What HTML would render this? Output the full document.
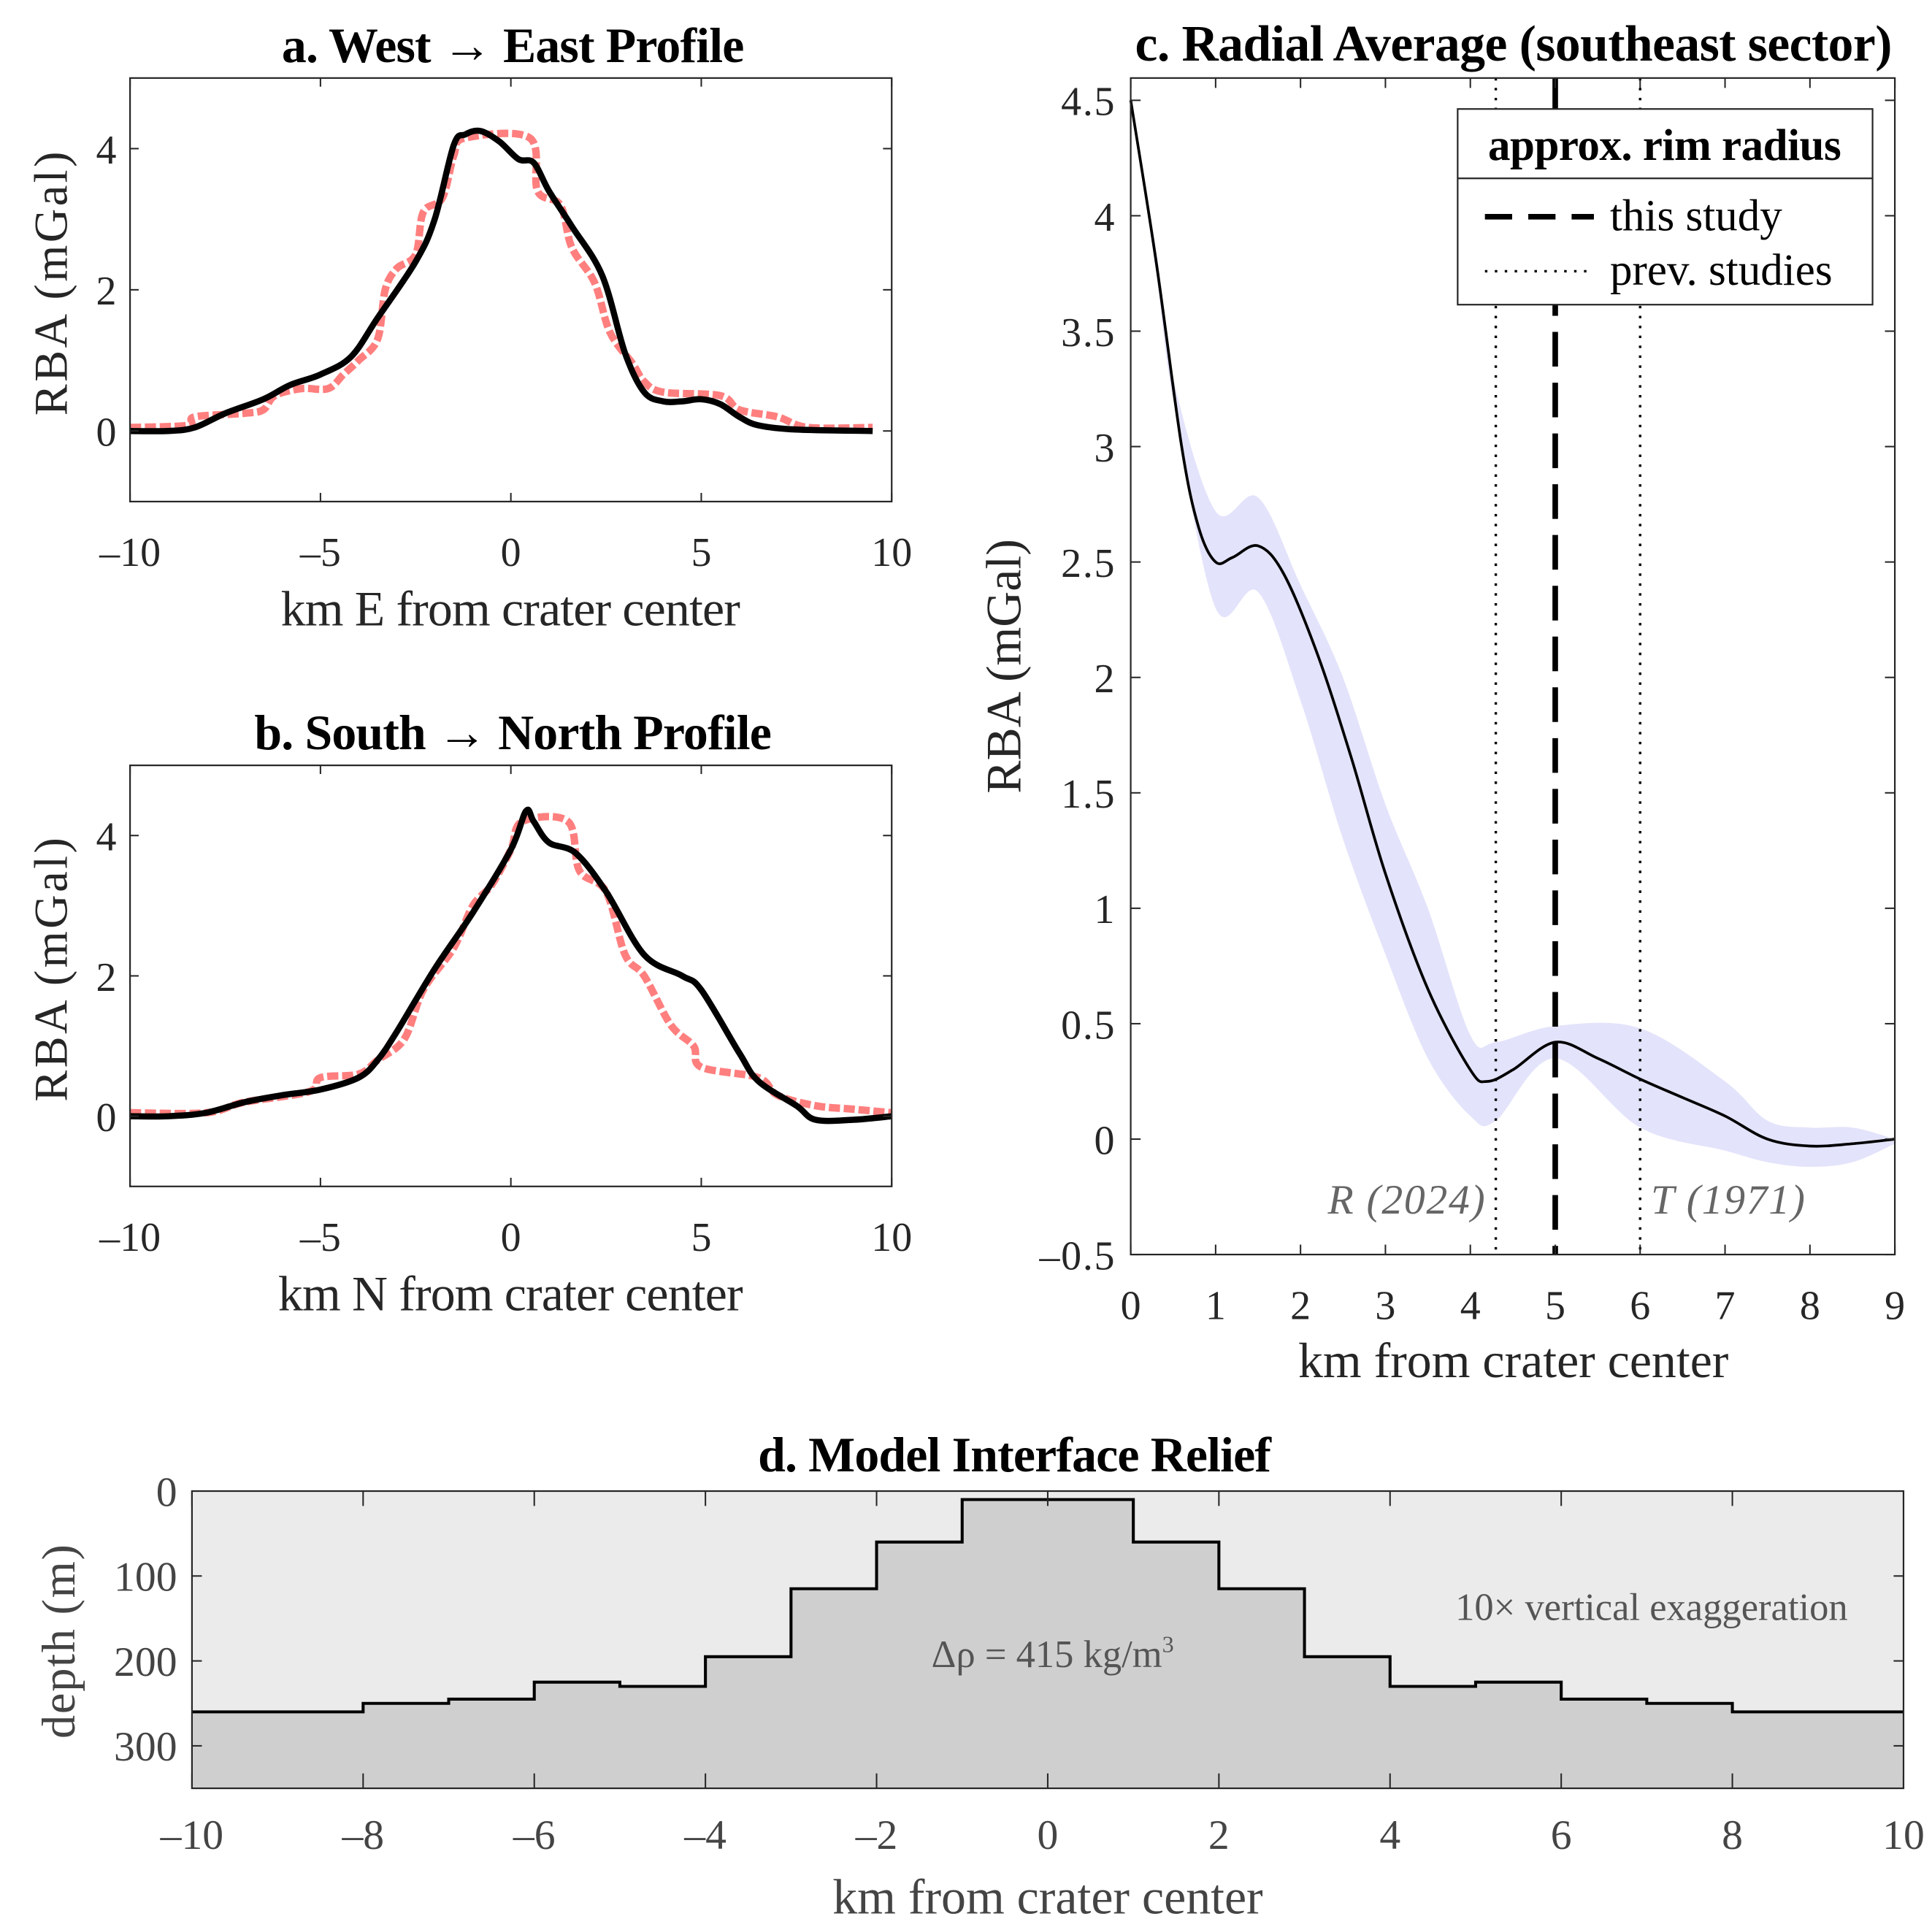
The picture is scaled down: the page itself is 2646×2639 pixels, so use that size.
<!DOCTYPE html>
<html><head><meta charset="utf-8"><style>
html,body{margin:0;padding:0;background:#fff;}
svg{display:block;font-family:"Liberation Serif",serif;}
</style></head><body>
<svg id="fig" width="2646" height="2639" viewBox="0 0 1560 1556" preserveAspectRatio="none" xmlns="http://www.w3.org/2000/svg"></svg>
<script>
// ---- Panel a data ----
const aBlackX=[-10,-9,-8.3,-7.5,-6.5,-5.8,-5,-4.2,-3.5,-2.5,-2,-1.5,-1.2,-0.8,-0.3,0.2,0.6,1,1.6,2.4,3,3.5,4,4.5,5,5.5,6,6.5,7.5,9.5];
const aBlackY=[0,0,0.05,0.25,0.45,0.65,0.8,1.05,1.6,2.4,3.0,4.05,4.2,4.25,4.1,3.85,3.8,3.4,2.9,2.2,1.1,0.55,0.42,0.42,0.45,0.38,0.2,0.08,0.02,0];
const aRedX=[-10,-8.5,-8.3,-7,-6.5,-6.2,-5.5,-4.8,-4.4,-4,-3.5,-3.3,-3,-2.5,-2.3,-1.8,-1.5,-1.2,0.5,0.7,1.3,1.6,2.2,2.6,3.2,3.5,4,5.5,6,7,7.8,9.5];
const aRedY=[0.05,0.08,0.2,0.25,0.3,0.5,0.6,0.6,0.8,1.0,1.3,2.0,2.3,2.5,3.1,3.3,3.9,4.15,4.15,3.4,3.2,2.6,2.1,1.4,0.95,0.7,0.55,0.5,0.3,0.2,0.05,0.05];
// ---- Panel b data ----
const bBlackX=[-10,-9,-8,-7,-6,-5,-4,-3.5,-3,-2,-1,0,0.4,0.6,1,1.7,2.5,3.5,4.5,5,6,6.5,7.5,8,9,10];
const bBlackY=[0,0,0.05,0.2,0.3,0.38,0.55,0.8,1.2,2.1,2.9,3.8,4.35,4.2,3.9,3.75,3.2,2.3,2.0,1.8,0.9,0.5,0.15,-0.05,-0.05,0];
const bRedX=[-10,-8,-7,-5.3,-5,-4,-3.5,-2.8,-2.3,-1.5,-1,-0.5,0,0.3,1.5,1.8,2.5,3,3.5,4.2,4.8,5,6.5,7,8,9,10];
const bRedY=[0.05,0.05,0.2,0.35,0.55,0.6,0.8,1.1,1.8,2.4,3.0,3.3,3.8,4.2,4.2,3.5,3.2,2.3,2.0,1.3,1.0,0.7,0.55,0.3,0.15,0.1,0.05];
// ---- Panel c data ----
const cX=[0,0.3,0.6,0.8,1,1.2,1.5,1.8,2.2,2.6,3,3.5,4,4.2,4.5,5,5.5,6,6.5,7,7.5,8,8.5,9];
const cMean=[4.5,3.8,3.0,2.65,2.5,2.52,2.57,2.45,2.1,1.65,1.15,0.65,0.3,0.25,0.3,0.42,0.35,0.26,0.18,0.1,0.0,-0.03,-0.02,0];
const cBandX=[0,0.3,0.5,1,1.5,2,2.5,3,3.5,4,4.3,5,6,7,7.5,8,8.5,9];
const cUpper=[4.5,3.85,3.3,2.72,2.78,2.4,2.0,1.45,1.0,0.45,0.42,0.49,0.48,0.25,0.08,0.05,0.05,0];
const cLower=[4.5,3.75,3.2,2.3,2.37,1.9,1.3,0.8,0.35,0.1,0.08,0.35,0.05,-0.05,-0.1,-0.12,-0.1,-0.02];
const rimThis=[5];
const rimPrev=[4.3,6];
// ---- Panel d data ----
const dEdges=[-10,-8,-7,-6,-5,-4,-3,-2,-1,1,2,3,4,5,6,7,8,10];
const dDepth=[260,250,245,225,230,195,115,60,10,60,115,195,230,225,245,250,260];

const svg=document.getElementById('fig');
const NS='http://www.w3.org/2000/svg';
function el(tag,attrs,parent){const e=document.createElementNS(NS,tag);for(const k in attrs)e.setAttribute(k,attrs[k]);(parent||svg).appendChild(e);return e;}
function txt(s,attrs,parent){const e=el('text',attrs,parent);e.textContent=s;return e;}
function lin(d0,d1,r0,r1){return v=>r0+(v-d0)*(r1-r0)/(d1-d0);}
function smooth(pts){let d='M'+pts[0][0]+','+pts[0][1];for(let i=0;i<pts.length-1;i++){const p0=pts[i-1]||pts[i],p1=pts[i],p2=pts[i+1],p3=pts[i+2]||p2;const c1x=p1[0]+(p2[0]-p0[0])/6,c1y=p1[1]+(p2[1]-p0[1])/6,c2x=p2[0]-(p3[0]-p1[0])/6,c2y=p2[1]-(p3[1]-p1[1])/6;d+=' C'+c1x+','+c1y+' '+c2x+','+c2y+' '+p2[0]+','+p2[1];}return d;}

function axesBox(x0,x1,y0,y1,name){
  const r=el('rect',{x:x0,y:y0,width:x1-x0,height:y1-y0,fill:'none',stroke:'#262626','stroke-width':1.3});
  
  
}

function profile(tag,top,bottom,title,xlabel,bx,by,rx,ry){
  const L=105,R=720;
  const sx=lin(-10,10,L,R), sy=lin(-1,5,bottom,top);
  const g=el('g',{});
  
  
  const t=txt(title,{x:414,y:top-13,'text-anchor':'middle','font-size':40,'font-weight':'bold','letter-spacing':-0.5},g);
  
  
  const rp=rx.map((v,i)=>[sx(v),sy(ry[i])]);
  const red=el('path',{d:smooth(rp),fill:'none',stroke:'#ff7f7f','stroke-width':6,'stroke-dasharray':'9,3'},g);
  
  
  const bp=bx.map((v,i)=>[sx(v),sy(by[i])]);
  const blk=el('path',{d:smooth(bp),fill:'none',stroke:'#000','stroke-width':5,'stroke-linejoin':'round'},g);
  
  
  axesBox(L,R,top,bottom,'axes-box-'+tag);
  [-10,-5,0,5,10].forEach(v=>{
    el('line',{x1:sx(v),x2:sx(v),y1:bottom,y2:bottom-7,stroke:'#262626','stroke-width':1.2},g);
    el('line',{x1:sx(v),x2:sx(v),y1:top,y2:top+7,stroke:'#262626','stroke-width':1.2},g);
    const l=txt(v<0?'\u2013'+Math.abs(v):String(v),{x:sx(v),y:bottom+52,'text-anchor':'middle','font-size':33,fill:'#262626'},g);
    
    
  });
  [0,2,4].forEach(v=>{
    el('line',{x1:L,x2:L+7,y1:sy(v),y2:sy(v),stroke:'#262626','stroke-width':1.2},g);
    el('line',{x1:R,x2:R-7,y1:sy(v),y2:sy(v),stroke:'#262626','stroke-width':1.2},g);
    const l=txt(String(v),{x:94,y:sy(v)+12,'text-anchor':'end','font-size':33,fill:'#262626'},g);
    
    
  });
  const xl=txt(xlabel,{x:412,y:bottom+100,'text-anchor':'middle','font-size':40,fill:'#262626','letter-spacing':-0.5},g);
  
  
  const cy=(top+bottom)/2-6;
  const yl=txt('RBA (mGal)',{x:0,y:0,'text-anchor':'middle','font-size':38,'letter-spacing':2,fill:'#262626',transform:'translate(54,'+cy+') rotate(-90)'},g);
  
  
}
profile('a',63,405,'a. West \u2192 East Profile','km E from crater center',aBlackX,aBlackY,aRedX,aRedY);
profile('b',618,958,'b. South \u2192 North Profile','km N from crater center',bBlackX,bBlackY,bRedX,bRedY);

(function(){
  const L=913,R=1530,T=63,B=1013;
  const sx=lin(0,9,L,R), sy=lin(-0.5,4.5,B,81);
  const g=el('g',{});
  
  
  const t=txt('c. Radial Average (southeast sector)',{x:1222,y:49,'text-anchor':'middle','font-size':41,'font-weight':'bold','letter-spacing':-0.3},g);
  
  
  const up=cBandX.map((v,i)=>[sx(v),sy(cUpper[i])]);
  const lo=cBandX.map((v,i)=>[sx(v),sy(cLower[i])]).reverse();
  const lod=smooth(lo).replace(/^M/,'L');
  const band=el('path',{d:smooth(up)+' '+lod+' Z',fill:'#e3e3fb',stroke:'none'},g);
  
  
  const mp=cX.map((v,i)=>[sx(v),sy(cMean[i])]);
  const mean=el('path',{d:smooth(mp),fill:'none',stroke:'#000','stroke-width':2.2},g);
  
  
  rimPrev.forEach(v=>{
    const l=el('line',{x1:sx(v),x2:sx(v),y1:T,y2:B,stroke:'#000','stroke-width':2,'stroke-dasharray':'2,6'},g);
    
    
  });
  rimThis.forEach(v=>{
    const l=el('line',{x1:sx(v),x2:sx(v),y1:T,y2:B,stroke:'#000','stroke-width':4.5,'stroke-dasharray':'28,13'},g);
    
    
  });
  const r1=txt('R (2024)',{x:1200,y:980,'text-anchor':'end','font-size':34,'font-style':'italic',fill:'#666','letter-spacing':1},g);
  
  
  const r2=txt('T (1971)',{x:1333,y:980,'font-size':34,'font-style':'italic',fill:'#666','letter-spacing':1},g);
  
  
  axesBox(L,R,T,B,'axes-box-c');
  for(let v=0;v<=9;v++){
    el('line',{x1:sx(v),x2:sx(v),y1:B,y2:B-8,stroke:'#262626','stroke-width':1.2},g);
    el('line',{x1:sx(v),x2:sx(v),y1:T,y2:T+8,stroke:'#262626','stroke-width':1.2},g);
    const l=txt(String(v),{x:sx(v),y:B+52,'text-anchor':'middle','font-size':33,fill:'#262626'},g);
    
    
  }
  for(let v=-0.5;v<=4.51;v+=0.5){
    el('line',{x1:L,x2:L+8,y1:sy(v),y2:sy(v),stroke:'#262626','stroke-width':1.2},g);
    el('line',{x1:R,x2:R-8,y1:sy(v),y2:sy(v),stroke:'#262626','stroke-width':1.2},g);
    const s=(v<0?'\u2013'+Math.abs(v):String(Math.round(v*10)/10));
    const l=txt(s,{x:901,y:sy(v)+12,'text-anchor':'end','font-size':33,fill:'#262626','letter-spacing':1},g);
    
    
  }
  const xl=txt('km from crater center',{x:1222,y:1112,'text-anchor':'middle','font-size':40,fill:'#262626'},g);
  
  
  const yl=txt('RBA (mGal)',{x:0,y:0,'text-anchor':'middle','font-size':40,fill:'#262626',transform:'translate(824,538) rotate(-90)'},g);
  
  
  const lg=el('g',{},g);
  
  
  el('rect',{x:1177,y:88,width:335,height:158,fill:'#fff',stroke:'#262626','stroke-width':1.3},lg);
  el('line',{x1:1177,x2:1512,y1:144,y2:144,stroke:'#262626','stroke-width':1.3},lg);
  const lt=txt('approx. rim radius',{x:1344,y:129,'text-anchor':'middle','font-size':36,'font-weight':'bold','letter-spacing':-0.3},lg);
  
  
  el('line',{x1:1199,x2:1287,y1:175,y2:175,stroke:'#000','stroke-width':4.5,'stroke-dasharray':'22,13'},lg);
  const l1=txt('this study',{x:1300,y:186,'font-size':36},lg);
  
  
  el('line',{x1:1199,x2:1287,y1:219,y2:219,stroke:'#000','stroke-width':2,'stroke-dasharray':'2,6'},lg);
  const l2=txt('prev. studies',{x:1300,y:230,'font-size':36},lg);
  
  
})();

(function(){
  const L=155,R=1537,T=1204,B=1444;
  const sx=lin(-10,10,L,R), sy=lin(0,350,T,B);
  const g=el('g',{});
  
  
  const t=txt('d. Model Interface Relief',{x:819,y:1188,'text-anchor':'middle','font-size':40,'font-weight':'bold','letter-spacing':-0.5},g);
  
  
  el('rect',{x:L,y:T,width:R-L,height:B-T,fill:'#ebebeb'},g);
  let d='M'+sx(dEdges[0])+','+sy(dDepth[0]);
  for(let i=0;i<dDepth.length;i++){d+=' L'+sx(dEdges[i])+','+sy(dDepth[i])+' L'+sx(dEdges[i+1])+','+sy(dDepth[i]);}
  const fill=el('path',{d:d+' L'+R+','+B+' L'+L+','+B+' Z',fill:'#cfcfcf',stroke:'none'},g);
  
  
  const ln=el('path',{d:d,fill:'none',stroke:'#000','stroke-width':2.4},g);
  
  
  axesBox(L,R,T,B,'axes-box-d');
  for(let v=-10;v<=10;v+=2){
    el('line',{x1:sx(v),x2:sx(v),y1:B,y2:B-12,stroke:'#262626','stroke-width':1.2},g);
    el('line',{x1:sx(v),x2:sx(v),y1:T,y2:T+12,stroke:'#262626','stroke-width':1.2},g);
    const l=txt(v<0?'\u2013'+Math.abs(v):String(v),{x:sx(v),y:B+49,'text-anchor':'middle','font-size':34,fill:'#444'},g);
    
    
  }
  [0,100,200,300].forEach(v=>{
    el('line',{x1:L,x2:L+8,y1:sy(v),y2:sy(v),stroke:'#262626','stroke-width':1.2},g);
    el('line',{x1:R,x2:R-8,y1:sy(v),y2:sy(v),stroke:'#262626','stroke-width':1.2},g);
    const l=txt(String(v),{x:143,y:sy(v)+12,'text-anchor':'end','font-size':34,fill:'#444'},g);
    
    
  });
  const a1=txt('10\u00d7 vertical exaggeration',{x:1492,y:1308,'text-anchor':'end','font-size':31,fill:'#555'},g);
  
  
  const a2=el('text',{x:850,y:1346,'text-anchor':'middle','font-size':31,fill:'#555'},g);
  a2.innerHTML='\u0394\u03c1 = 415 kg/m<tspan dy="-12" font-size="19">3</tspan>';
  
  
  const xl=txt('km from crater center',{x:846,y:1545,'text-anchor':'middle','font-size':40,fill:'#444'},g);
  
  
  const yl=txt('depth (m)',{x:0,y:0,'text-anchor':'middle','font-size':38,fill:'#444','letter-spacing':1,transform:'translate(60,1325) rotate(-90)'},g);
  
  
})();
</script>
</body></html>
